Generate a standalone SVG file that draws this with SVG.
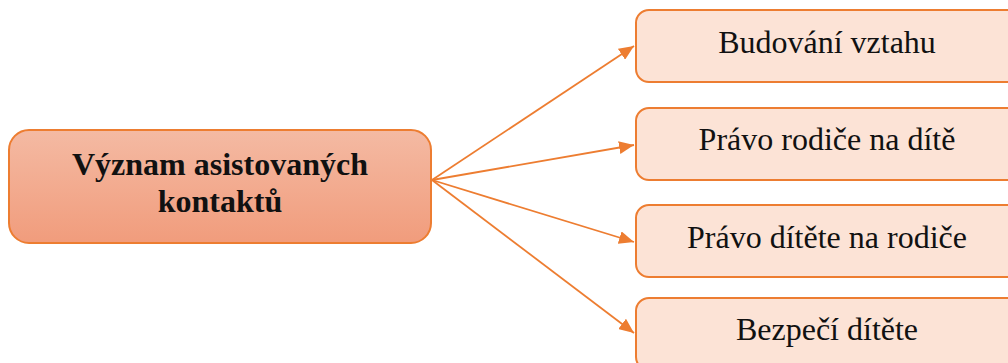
<svg xmlns="http://www.w3.org/2000/svg" width="1008" height="363" viewBox="0 0 1008 363">
<defs>
<linearGradient id="g" x1="0" y1="0" x2="0" y2="1">
<stop offset="0" stop-color="#F4BAA3"/>
<stop offset="1" stop-color="#F19C7C"/>
</linearGradient>
<marker id="ah" viewBox="0 0 10 10" refX="10" refY="5" markerWidth="15" markerHeight="13" markerUnits="userSpaceOnUse" orient="auto" preserveAspectRatio="none">
<path d="M0,0 L10,5 L0,10 z" fill="#ED7D31"/>
</marker>
<style>
.leaf{fill:#FCE3D6;stroke:#ED7D31;stroke-width:2}
.conn{stroke:#ED7D31;stroke-width:1.8;fill:none}
.t{font-family:"Liberation Serif","Times New Roman",serif;font-size:32px;fill:#111;text-anchor:middle}
.b{font-weight:bold}
</style>
</defs>
<rect width="1008" height="363" fill="#FFFFFF"/>
<g id="connectors">
<line class="conn" x1="432" y1="180" x2="634" y2="46" marker-end="url(#ah)"/>
<line class="conn" x1="432" y1="180" x2="634" y2="145" marker-end="url(#ah)"/>
<line class="conn" x1="432" y1="180" x2="634" y2="242" marker-end="url(#ah)"/>
<line class="conn" x1="432" y1="180" x2="634" y2="333" marker-end="url(#ah)"/>
</g>
<g id="center">
<rect x="9" y="130" width="422" height="113" rx="20" fill="url(#g)" stroke="#ED7D31" stroke-width="2"/>
<text class="t b" x="220" y="175">Význam asistovaných</text>
<text class="t b" x="220" y="212">kontaktů</text>
</g>
<g id="n1">
<rect class="leaf" x="636" y="10" width="390" height="72" rx="13"/>
<text class="t" x="827" y="53">Budování vztahu</text>
</g>
<g id="n2">
<rect class="leaf" x="636" y="108" width="390" height="72" rx="13"/>
<text class="t" x="827" y="150">Právo rodiče na dítě</text>
</g>
<g id="n3">
<rect class="leaf" x="636" y="205" width="390" height="72" rx="13"/>
<text class="t" x="827" y="248">Právo dítěte na rodiče</text>
</g>
<g id="n4">
<rect class="leaf" x="636" y="298" width="390" height="72" rx="13"/>
<text class="t" x="827" y="340">Bezpečí dítěte</text>
</g>
</svg>
